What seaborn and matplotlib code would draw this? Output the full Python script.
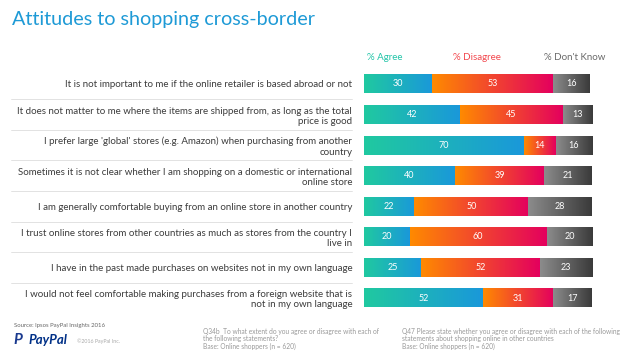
import numpy as np
import matplotlib
matplotlib.use("Agg")
import matplotlib.pyplot as plt
import seaborn as sns
from matplotlib.colors import LinearSegmentedColormap
from matplotlib.transforms import blended_transform_factory

statements = [
    "It is not important to me if the online retailer is based abroad or not",
    "It does not matter to me where the items are shipped from, as long as the total\nprice is good",
    "I prefer large 'global' stores (e.g. Amazon) when purchasing from another\ncountry",
    "Sometimes it is not clear whether I am shopping on a domestic or international\nonline store",
    "I am generally comfortable buying from an online store in another country",
    "I trust online stores from other countries as much as stores from the country I\nlive in",
    "I have in the past made purchases on websites not in my own language",
    "I would not feel comfortable making purchases from a foreign website that is\nnot in my own language",
]
agree = [30, 42, 70, 40, 22, 20, 25, 52]
disagree = [53, 45, 14, 39, 50, 60, 52, 31]
dont_know = [16, 13, 16, 21, 28, 20, 23, 17]

series = [
    ("% Agree", agree, ("#20c9a0", "#1a98da")),
    ("% Disagree", disagree, ("#ff8a00", "#e4005e")),
    ("% Don't Know", dont_know, ("#8c8c8c", "#3a3a3a")),
]

sns.set_theme(style="white")
plt.rcParams["font.family"] = ["Lato", "DejaVu Sans"]

fig = plt.figure(figsize=(6.32, 3.55), dpi=100)
ax = fig.add_axes([0.576, 0.1175, 0.361, 0.689])

left = np.zeros(len(statements))
grad = np.linspace(0, 1, 256).reshape(1, -1)
for name, vals, (c0, c1) in series:
    sns.barplot(x=vals, y=statements, orient="h", color=c1, saturation=1,
                width=0.62, ax=ax)
    cmap = LinearSegmentedColormap.from_list(name, [c0, c1])
    for p, l, v in zip(ax.patches[-len(vals):], left, vals):
        p.set_x(l)
        p.set_linewidth(0)
        y0, h = p.get_y(), p.get_height()
        ax.imshow(grad, extent=[l, l + v, y0 + h, y0], aspect="auto",
                  cmap=cmap, zorder=3)
        ax.text(l + v / 2, y0 + h / 2, str(v), ha="center", va="center",
                color="white", fontsize=6.5, zorder=4)
    left = left + np.array(vals)

ax.set_xlim(0, 100)
ax.set_ylim(len(statements) - 0.5, -0.5)
ax.set_xlabel("")
ax.set_ylabel("")
ax.set_xticks([])
sns.despine(ax=ax, left=True, bottom=True)
ax.tick_params(axis="y", length=0, pad=8.5, labelsize=7, labelcolor="#3c3c3c")

# separator lines under the labels
tr = blended_transform_factory(fig.transFigure, ax.transData)
for i in range(len(statements) - 1):
    ax.plot([0.018, 0.557], [i + 0.5, i + 0.5], transform=tr, color="#dddddd",
            lw=0.6, clip_on=False)

# column headers
fig.text(385 / 632, 1 - 57 / 355, "% Agree", color="#22c4a8", fontsize=7,
         ha="center", va="center")
fig.text(477 / 632, 1 - 57 / 355, "% Disagree", color="#f2484e", fontsize=7,
         ha="center", va="center")
fig.text(575 / 632, 1 - 57 / 355, "% Don't Know", color="#6a6a6a", fontsize=7,
         ha="center", va="center")

fig.text(12 / 632, 1 - 20 / 355, "Attitudes to shopping cross-border",
         color="#1e9ad6", fontsize=14.2, ha="left", va="center")

# footer
fig.text(14 / 632, 1 - 326 / 355, "Source: Ipsos PayPal Insights 2016",
         color="#666666", fontsize=4.3, ha="left", va="center")
fig.text(13 / 632, 1 - 340 / 355, "P", color="#1a3a8f", fontsize=11,
         fontweight="bold", style="italic", ha="left", va="center")
fig.text(28 / 632, 1 - 340 / 355, "PayPal", color="#003087", fontsize=9.5,
         fontweight="bold", style="italic", ha="left", va="center")
fig.text(77 / 632, 1 - 341 / 355, "\u00a92016 PayPal Inc.", color="#aaaaaa",
         fontsize=3.8, ha="left", va="center")
fig.text(203 / 632, 1 - 339 / 355,
         "Q34b  To what extent do you agree or disagree with each of\n"
         "the following statements?\nBase: Online shoppers (n = 620)",
         color="#999999", fontsize=4.8, ha="left", va="center", linespacing=1.15)
fig.text(402 / 632, 1 - 339 / 355,
         "Q47 Please state whether you agree or disagree with each of the following\n"
         "statements about shopping online in other countries\n"
         "Base: Online shoppers (n = 620)",
         color="#999999", fontsize=4.8, ha="left", va="center", linespacing=1.15)

fig.savefig("out.png", dpi=100)
